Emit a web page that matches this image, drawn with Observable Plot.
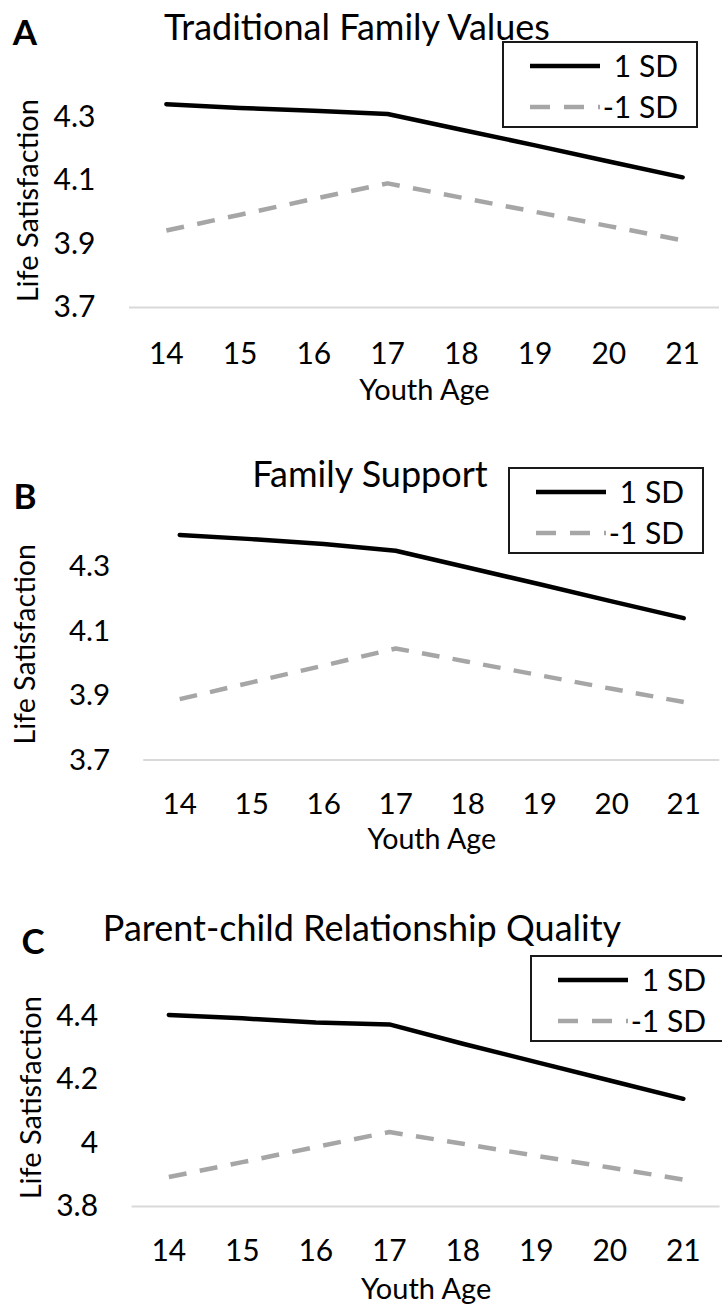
<!DOCTYPE html>
<html>
<head>
<meta charset="utf-8">
<script src="https://cdn.jsdelivr.net/npm/d3@7"></script>
<script src="https://cdn.jsdelivr.net/npm/@observablehq/plot@0.6"></script>
<style>
  html, body { margin: 0; padding: 0; background: #fff; overflow: hidden; }
  #page { position: relative; width: 722px; height: 1314px; overflow: hidden; background: #fff; font-family: Lato, sans-serif; color: #000; }
  .panel { position: absolute; left: 0; }
  .title { position: absolute; white-space: nowrap; font-size: 36px; line-height: 1; transform: translate(-50%, -50%); }
  .letter { position: absolute; white-space: nowrap; font-size: 35px; font-weight: 700; line-height: 1; transform: translate(-50%, -50%); }
  .legend { position: absolute; width: 196px; height: 87px; box-sizing: border-box; border: 2px solid #1a1a1a; background: #fff; }
  .legend svg { position: absolute; left: -2px; top: -2px; overflow: visible; }
</style>
</head>
<body>
<div id="page"></div>
<script>
// ---- data ----
const ages = [14, 15, 16, 17, 18, 19, 20, 21];
const seriesLabels = ["1 SD", "-1 SD"];
const panelLetters = ["A", "B", "C"];
const panelTitles = ["Traditional Family Values", "Family Support", "Parent-child Relationship Quality"];
const yTitle = "Life Satisfaction";
const xTitle = "Youth Age";

const highA = [4.342, 4.330, 4.321, 4.311, 4.261, 4.212, 4.161, 4.111];
const lowA  = [3.943, 3.993, 4.043, 4.092, 4.047, 4.002, 3.957, 3.912];
const highB = [4.398, 4.385, 4.370, 4.349, 4.297, 4.245, 4.192, 4.140];
const lowB  = [3.889, 3.941, 3.993, 4.046, 4.005, 3.963, 3.921, 3.880];
const highC = [4.405, 4.394, 4.381, 4.375, 4.314, 4.256, 4.198, 4.140];
const lowC  = [3.893, 3.940, 3.988, 4.035, 3.998, 3.960, 3.923, 3.885];

const yTicksA = [3.7, 3.9, 4.1, 4.3];
const yTicksB = [3.7, 3.9, 4.1, 4.3];
const yTicksC = [3.8, 4, 4.2, 4.4];
const yDomainA = [3.7, 4.4];
const yDomainB = [3.7, 4.4];
const yDomainC = [3.8, 4.5];

// ---- layout ----
const panels = [
  { high: highA, low: lowA, ticks: yTicksA, domain: yDomainA, top: 0, height: 430, width: 722,
    mt: 85.3, mb: 123, ml: 129, mr: 3, tickPadX: 35, ytDx: -101, ytDy: 4, xtDy: 92,
    title: [357, 26], letter: [25, 31], legend: [502, 41] },
  { high: highB, low: lowB, ticks: yTicksB, domain: yDomainB, top: 440, height: 430, width: 732,
    mt: 95.1, mb: 106, ml: 145.2, mr: 2.8, tickPadX: 33, ytDx: -119, ytDy: -3, xtDy: 90,
    title: [370, 473], letter: [25, 495], legend: [508, 467] },
  { high: highC, low: lowC, ticks: yTicksC, domain: yDomainC, top: 880, height: 434, width: 722,
    mt: 104.3, mb: 108, ml: 131.6, mr: 2.4, tickPadX: 33, ytDx: -100.6, ytDy: 2, xtDy: 92,
    title: [362, 927], letter: [33, 940], legend: [529.5, 955] }
];

const BLACK = "#000";
const GRAY = "#a6a6a6";
const page = document.getElementById("page");

panels.forEach((p, k) => {
  const rows = ages.flatMap((a, i) => [
    { age: a, value: p.high[i], series: seriesLabels[0] },
    { age: a, value: p.low[i], series: seriesLabels[1] }
  ]);
  const chart = Plot.plot({
    width: p.width,
    height: p.height,
    marginTop: p.mt,
    marginBottom: p.mb,
    marginLeft: p.ml,
    marginRight: p.mr,
    style: { fontFamily: "Lato, sans-serif", fontSize: "30px", color: "#000", background: "transparent", overflow: "visible" },
    x: { type: "linear", domain: [13.5, 21.5] },
    y: { type: "linear", domain: p.domain },
    marks: [
      Plot.ruleY([p.domain[0]], { stroke: "#d9d9d9", strokeWidth: 2 }),
      Plot.axisX({ ticks: ages, tickSize: 0, tickPadding: p.tickPadX, tickFormat: d => String(d), fontSize: 30, label: null }),
      Plot.axisY({ ticks: p.ticks, tickSize: 0, tickPadding: 34, tickFormat: d => String(d), fontSize: 30, label: null }),
      Plot.line(rows.filter(d => d.series === seriesLabels[1]), {
        x: "age", y: "value", stroke: GRAY, strokeWidth: 4.5, strokeDasharray: "18,13.5", strokeLinecap: "butt", strokeLinejoin: "round"
      }),
      Plot.line(rows.filter(d => d.series === seriesLabels[0]), {
        x: "age", y: "value", stroke: BLACK, strokeWidth: 4.5, strokeLinecap: "round", strokeLinejoin: "round"
      }),
      Plot.text([xTitle], { text: d => d, frameAnchor: "bottom", textAnchor: "middle", dy: p.xtDy, fontSize: 29, fill: "#000" }),
      Plot.text([yTitle], { text: d => d, frameAnchor: "left", textAnchor: "middle", lineAnchor: "middle", rotate: -90, dx: p.ytDx, dy: p.ytDy, fontSize: 29, fill: "#000" })
    ]
  });
  const holder = document.createElement("div");
  holder.className = "panel";
  holder.style.top = p.top + "px";
  holder.appendChild(chart);
  page.appendChild(holder);

  const t = document.createElement("div");
  t.className = "title";
  t.textContent = panelTitles[k];
  t.style.left = p.title[0] + "px";
  t.style.top = p.title[1] + "px";
  page.appendChild(t);

  const l = document.createElement("div");
  l.className = "letter";
  l.textContent = panelLetters[k];
  l.style.left = p.letter[0] + "px";
  l.style.top = p.letter[1] + "px";
  page.appendChild(l);

  const lg = document.createElement("div");
  lg.className = "legend";
  lg.style.left = p.legend[0] + "px";
  lg.style.top = p.legend[1] + "px";
  const ns = "http://www.w3.org/2000/svg";
  const s = document.createElementNS(ns, "svg");
  s.setAttribute("width", 196);
  s.setAttribute("height", 87);
  const rowsY = [25, 66];
  seriesLabels.forEach((lab, j) => {
    const ln = document.createElementNS(ns, "line");
    ln.setAttribute("x1", 28); ln.setAttribute("x2", 98);
    ln.setAttribute("y1", rowsY[j]); ln.setAttribute("y2", rowsY[j]);
    ln.setAttribute("stroke", j === 0 ? BLACK : GRAY);
    ln.setAttribute("stroke-width", 4.5);
    if (j === 1) ln.setAttribute("stroke-dasharray", "20,14");
    s.appendChild(ln);
    const tx = document.createElementNS(ns, "text");
    tx.setAttribute("x", 176);
    tx.setAttribute("y", rowsY[j]);
    tx.setAttribute("dy", "0.35em");
    tx.setAttribute("text-anchor", "end");
    tx.setAttribute("font-family", "Lato, sans-serif");
    tx.setAttribute("font-size", 30);
    tx.textContent = lab;
    s.appendChild(tx);
  });
  lg.appendChild(s);
  page.appendChild(lg);
});
</script>
</body>
</html>
